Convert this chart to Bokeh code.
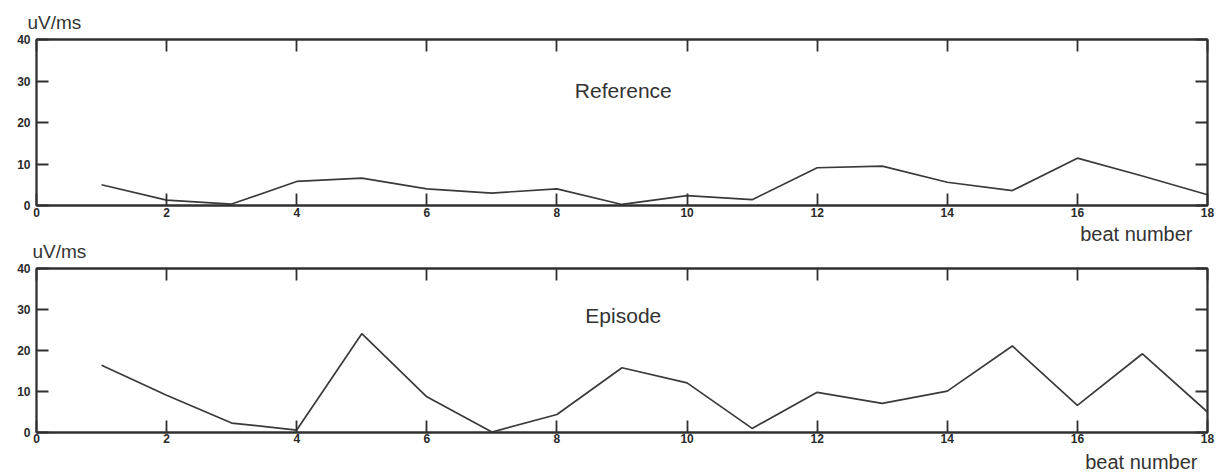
from bokeh.plotting import figure
from bokeh.models import LinearAxis, FixedTicker, Label, Range1d, Title
from bokeh.layouts import column
from bokeh.embed import file_html
from bokeh.resources import INLINE

beats = list(range(1, 19))
reference_vals = [5.0, 1.3, 0.35, 5.8, 6.6, 4.0, 3.0, 4.0, 0.25, 2.4, 1.4, 9.1, 9.5, 5.6, 3.6, 11.4, 7.1, 2.6]
episode_vals = [16.4, 9.1, 2.3, 0.6, 24.1, 8.7, 0.1, 4.4, 15.8, 12.1, 1.0, 9.8, 7.1, 10.1, 21.1, 6.6, 19.2, 5.0]
x_ticks = [0, 2, 4, 6, 8, 10, 12, 14, 16, 18]
y_ticks = [0, 10, 20, 30, 40]
unit_label = "uV/ms"
x_label = "beat number"
panel_titles = ["Reference", "Episode"]

FRAME = "#303030"
TXT = "#333333"
FONT = "Liberation Sans"


def style_axis(ax, show_labels, standoff):
    ax.axis_line_color = FRAME
    ax.axis_line_width = 1.8
    ax.major_tick_line_color = FRAME
    ax.major_tick_line_width = 1.8
    ax.major_tick_in = 12
    ax.major_tick_out = 0
    ax.minor_tick_line_color = None
    ax.major_label_text_font = FONT
    ax.major_label_text_font_size = "12px"
    ax.major_label_text_font_style = "bold"
    ax.major_label_text_color = "#2a2a2a"
    ax.major_label_standoff = standoff
    if not show_labels:
        ax.major_label_text_font_size = "0px"
        ax.major_label_text_color = None


def side_title(text, size, align, offset, standoff=0):
    return Title(text=text, align=align, offset=offset, standoff=standoff,
                 text_font=FONT, text_font_size=size, text_font_style="normal",
                 text_color=TXT)


def make_panel(vals, title, height, b_top, b_bottom, title_y, bottom_gap):
    p = figure(width=1216, height=height, output_backend="svg", toolbar_location=None,
               x_range=Range1d(0, 18), y_range=Range1d(0, 40),
               min_border_left=36, min_border_right=9,
               min_border_top=b_top, min_border_bottom=b_bottom,
               x_axis_location=None, y_axis_location=None)
    p.xgrid.visible = False
    p.ygrid.visible = False
    p.outline_line_color = FRAME
    p.outline_line_width = 1.8
    p.background_fill_color = "white"
    p.border_fill_color = "white"

    bottom = LinearAxis(ticker=FixedTicker(ticks=x_ticks))
    style_axis(bottom, True, bottom_gap)
    p.add_layout(bottom, "below")
    top = LinearAxis(ticker=FixedTicker(ticks=x_ticks))
    style_axis(top, False, 0)
    p.add_layout(top, "above")
    left = LinearAxis(ticker=FixedTicker(ticks=y_ticks))
    style_axis(left, True, 6)
    p.add_layout(left, "left")
    right = LinearAxis(ticker=FixedTicker(ticks=y_ticks))
    style_axis(right, False, 0)
    p.add_layout(right, "right")

    p.line(beats, vals, line_color="#3a3a3a", line_width=1.7)

    p.add_layout(Label(x=9.02, y=title_y, text=title, text_font=FONT, text_font_size="21px",
                       text_color=TXT, text_align="center", text_baseline="middle"))
    return p


# upper panel: unit label above; its "beat number" sits in the lower panel's header
p1 = make_panel(reference_vals, panel_titles[0], 221, 39, 16, 27.6, 2)
p1.add_layout(side_title(unit_label, "19px", "left", -9, 13), "above")

p2 = make_panel(episode_vals, panel_titles[1], 255, 47, 44, 28.6, 1)
p2.add_layout(side_title(unit_label, "19px", "left", -4, 13), "above")
p2.add_layout(side_title(x_label, "20px", "right", 15, -25), "above")
p2.add_layout(side_title(x_label, "20px", "right", 10, 7), "below")

layout = column(p1, p2, spacing=0)
open("out.html", "w").write(file_html(layout, INLINE))
